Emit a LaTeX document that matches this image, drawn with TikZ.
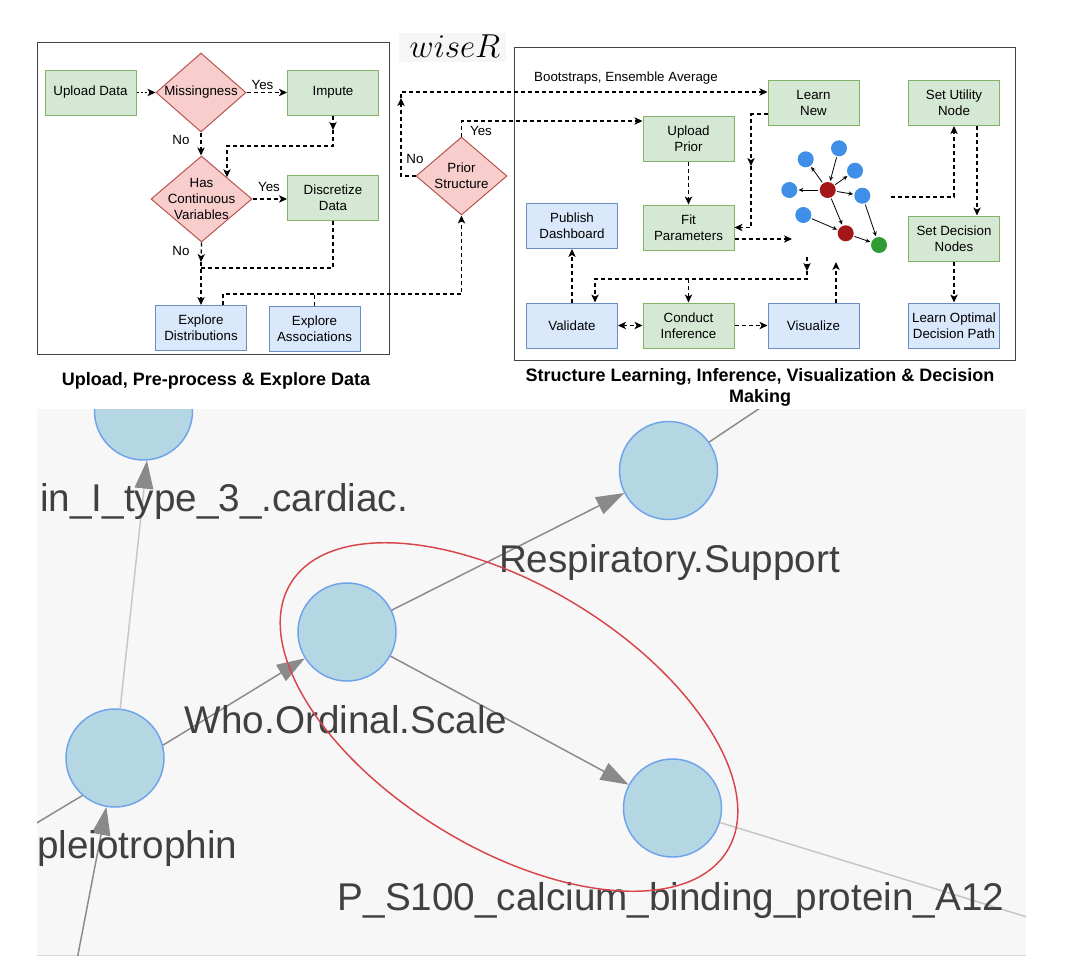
\documentclass[tikz,border=0pt]{standalone}
\usepackage{fontspec}
\setmainfont{Liberation Sans}
\usetikzlibrary{arrows.meta,shapes.geometric}
\definecolor{gfill}{HTML}{D5E8D4}
\definecolor{gline}{HTML}{82B366}
\definecolor{rfill}{HTML}{F8CECC}
\definecolor{rline}{HTML}{B85450}
\definecolor{bfill}{HTML}{DAE8FC}
\definecolor{bline}{HTML}{6C8EBF}
\definecolor{netblue}{HTML}{3F8FE8}
\definecolor{netred}{HTML}{A3171A}
\definecolor{netgreen}{HTML}{2F9B32}
\definecolor{shotbg}{HTML}{F7F7F7}
\definecolor{cfill}{HTML}{B4D7E3}
\definecolor{cline}{HTML}{6FA3EA}
\definecolor{ctext}{HTML}{404040}
\definecolor{ered}{HTML}{D8464B}
\definecolor{edgec}{HTML}{8A8A8A}
\definecolor{edgel}{HTML}{C6C6C6}
\definecolor{frame}{HTML}{444444}
\tikzset{ah/.tip={Stealth[length=6pt,width=5.5pt,inset=1.6pt]}}
\begin{document}
\begin{tikzpicture}[x=0.75pt,y=-0.75pt,
  gbox/.style={rectangle, draw=gline, fill=gfill, line width=0.75pt, minimum width=68.25pt, minimum height=33.75pt, inner sep=1pt, align=center, font=\fontsize{10}{12}\selectfont},
  bbox/.style={gbox, draw=bline, fill=bfill},
  dia/.style={diamond, draw=rline, fill=rfill, line width=0.75pt, inner sep=0pt},
  dtext/.style={align=center, font=\fontsize{10}{12}\selectfont, inner sep=0pt},
  lbl/.style={font=\fontsize{10}{12}\selectfont, inner sep=0pt},
  plainflow/.style={draw=black, line width=0.9pt, dash pattern=on 3pt off 2.25pt},
  flow/.style={plainflow, -ah},
  netn/.style={circle, inner sep=0pt, minimum size=12pt},
  nete/.style={-{Stealth[length=3.5pt,width=3.2pt]}, line width=0.6pt, shorten >=0.8pt, shorten <=0.8pt},
  bign/.style={circle, draw=cline, fill=cfill, line width=1.1pt, minimum size=73.5pt, inner sep=0pt},
  bigl/.style={font=\fontsize{29}{34}\selectfont, text=ctext, inner sep=0pt},
  edgeline/.style={draw=edgec, line width=1.1pt},
  bige/.style={edgeline, -{Triangle[length=21pt,width=14pt,color=edgec]}},
  ttl/.style={font=\fontsize{13.5}{15.75}\selectfont\bfseries, align=center, inner sep=0pt}
]
\useasboundingbox (0,0) rectangle (1080,960);

% ---------------- left panel ----------------
\draw[frame, line width=0.75pt] (37,42) rectangle (389,354);
\node[gbox] (upload) at (90.5,92.5) {Upload Data};
\node[dia, minimum width=67.5pt, minimum height=59.25pt, label={[dtext]center:Missingness}] (miss) at (201,92.5) {};
\node[gbox] (impute) at (333,92.5) {Impute};
\node[dia, minimum width=75.75pt, minimum height=64.5pt, label={[dtext]center:Has\\Continuous\\Variables}] (hcv) at (201.5,199) {};
\node[gbox] (disc) at (333,198) {Discretize\\Data};
\node[bbox] (expdist) at (201,328) {Explore\\Distributions};
\node[bbox] (expassoc) at (314.5,329) {Explore\\Associations};
\node[dia, minimum width=68.25pt, minimum height=58.5pt, label={[dtext]center:Prior\\Structure}] (prior) at (461.5,176) {};

\node[lbl] (y1) at (262.5,85) {Yes};
\node[lbl] (n1l) at (181,140) {No};
\node[lbl] (y2) at (269,187) {Yes};
\node[lbl] (n2l) at (181,251) {No};
\node[lbl] (n3l) at (415,159) {No};
\node[lbl] (y3) at (481,131) {Yes};

\draw[flow, dash pattern=on 1.5pt off 1.5pt] (upload) -- (miss);
\draw[flow] (miss) -- (impute);
\draw[flow] (miss.south) -- (miss.south |- hcv.north);
\coordinate (imp1) at (333,130);
\coordinate (imp2) at (227,146);
\draw[flow] (impute.south) -- (imp1);
\draw[flow] (imp1) |- (imp2) -- (hcv.north east);
\draw[flow] (hcv.east) -- (hcv.east -| disc.west);
\coordinate (hc1) at (201,262);
\coordinate (dj) at (201,268);
\draw[flow] (hcv.south) -- (hc1);
\draw[flow] (hc1) -- (expdist.north);
\draw[plainflow] (disc.south) |- (dj);
\coordinate (pj) at (461.5,294);
\draw[flow] ([xshift=16.5pt]expdist.north) |- (pj) -- (prior.south);
\draw[plainflow] (expassoc.north) -- (expassoc.north |- pj);

% ---------------- logo ----------------
\fill[gray!7] (399,33) rectangle (506,62);
\node[inner sep=0pt] (logo) at (455,46) {\fontsize{25}{30}\selectfont $wiseR$};

% ---------------- right panel ----------------
\draw[frame, line width=0.75pt] (514,47) rectangle (1015,360);
\node[gbox] (learnnew) at (813.5,103) {Learn\\New};
\node[gbox] (utility) at (954,103) {Set Utility\\Node};
\node[gbox] (uprior) at (688.5,138.5) {Upload\\Prior};
\node[gbox] (fitp) at (688.5,227.5) {Fit\\Parameters};
\node[bbox] (publish) at (572,226) {Publish\\Dashboard};
\node[gbox] (decn) at (954,238.5) {Set Decision\\Nodes};
\node[bbox] (validate) at (572,325.5) {Validate};
\node[gbox] (conduct) at (688.5,325.5) {Conduct\\Inference};
\node[bbox] (visual) at (813.5,325.5) {Visualize};
\node[bbox] (optpath) at (954,325.5) {Learn Optimal\\Decision Path};
\node[lbl] (boot) at (626,78) {Bootstraps, Ensemble Average};

% prior structure connectors
\coordinate (pn1) at (401,98);
\coordinate (pn2) at (401,92);
\draw[flow] (prior.west) -| (pn1);
\draw[flow] (pn1) -- (pn2) -- (pn2 -| learnnew.west);
\coordinate (py) at (461.5,121);
\draw[flow] (prior.north) -- (py) -- (py -| uprior.west);

\coordinate (ln1) at (751,114);
\coordinate (ln2) at (751,166);
\draw[flow] (learnnew.west |- ln1) -- (ln1) -- (ln2);
\draw[flow] (ln2) |- (fitp.east);
\draw[flow] (uprior) -- (fitp);
\coordinate (gin) at (792,239);
\draw[flow] (fitp.east |- gin) -- (gin);
\coordinate (gout) at (891,197);
\draw[flow] (gout) -| (utility.south);
\draw[flow] ([xshift=17.25pt]utility.south) -- ([xshift=17.25pt]decn.north);
\draw[flow] (decn) -- (optpath);
\coordinate (gb1) at (807,257);
\coordinate (gb2) at (807,271);
\coordinate (gb3) at (807,279);
\draw[flow] (gb1) -- (gb2);
\draw[flow] (gb2) -- (gb3) -| ([xshift=17.25pt]validate.north);
\draw[flow] (conduct.north |- gb3) -- (conduct.north);
\coordinate (gv) at (836,262);
\draw[flow] (visual.north -| gv) -- (gv);
\draw[flow] (validate) -- (publish);
\draw[plainflow, ah-ah] (validate) -- (conduct);
\draw[flow] (conduct) -- (visual);

% mini network
\node[netn, fill=netblue] (b1) at (805.7,159.3) {};
\node[netn, fill=netblue] (b2) at (839,148.3) {};
\node[netn, fill=netblue] (b3) at (855,170.7) {};
\node[netn, fill=netblue] (b4) at (789.3,190) {};
\node[netn, fill=netblue] (b5) at (862.3,195.7) {};
\node[netn, fill=netblue] (b6) at (803.3,215) {};
\node[netn, fill=netred] (r1) at (827.7,190) {};
\node[netn, fill=netred] (r2) at (845.7,233.3) {};
\node[netn, fill=netgreen] (gg) at (879,245) {};
\draw[nete] (r1) -- (b1);
\draw[nete] (b2) -- (r1);
\draw[nete] (r1) -- (b3);
\draw[nete] (r1) -- (b4);
\draw[nete] (r1) -- (b5);
\draw[nete] (r1) -- (r2);
\draw[nete] (b6) -- (r2);
\draw[nete] (b5) -- (gg);
\draw[nete] (r2) -- (gg);

% titles
\node[ttl] (t1) at (216,381) {Upload, Pre-process \& Explore Data};
\node[ttl] (t2) at (760,387.5) {Structure Learning, Inference, Visualization \& Decision\\Making};

% ---------------- screenshot ----------------
\fill[shotbg] (37,409) rectangle (1026,955);
\draw[gray!30, line width=0.75pt] (37,955) -- (1026,955);
\begin{scope}
\clip (37,409) rectangle (1026,955);
\node[bign] (c1) at (143.5,411) {};
\node[bign] (c2) at (668.5,470.5) {};
\node[bign] (c3) at (347,632) {};
\node[bign] (c4) at (115,758) {};
\node[bign] (c5) at (672.5,808) {};
\coordinate (e1) at (76,965);
\coordinate (e2) at (20,833);
\coordinate (e3) at (772,400);
\coordinate (e4) at (1040,921);
\draw[bige] (e1) -- (c4.260);
\draw[bige, draw=edgel] (c4.84) -- (c1.274);
\draw[bige] (c4.15) -- (c3.212);
\draw[edgeline] (c4.229) -- (e2);
\draw[bige] (c3.26) -- (c2.207);
\draw[edgeline] (c2.35) -- (e3);
\draw[bige] (c3.-29) -- (c5.152);
\draw[edgeline, draw=edgel] (c5.-17) -- (e4);
\node[bigl, anchor=base west] (l1) at (40,511) {in\_I\_type\_3\_.cardiac.};
\node[bigl, anchor=base] (l2) at (669.5,572) {Respiratory.Support};
\node[bigl, anchor=base] (l3) at (346,733) {Who.Ordinal.Scale};
\node[bigl, anchor=base west] (l4) at (37,858) {pleiotrophin};
\node[bigl, anchor=base] (l5) at (671,910) {P\_S100\_calcium\_binding\_protein\_A12};
\draw[ered, line width=1.1pt, rotate around={-31.5:(509,717)}] (509,717) ellipse [x radius=256, y radius=131];
\end{scope}
\end{tikzpicture}
\end{document}
